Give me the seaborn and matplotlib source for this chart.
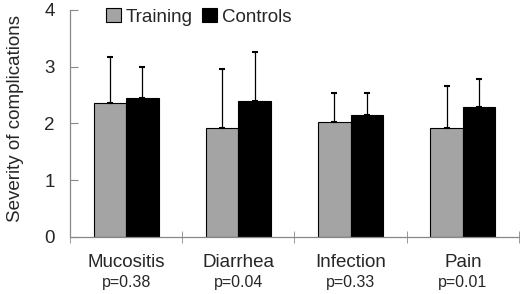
import matplotlib
matplotlib.use("Agg")
import matplotlib.pyplot as plt
import seaborn as sns
import pandas as pd
from matplotlib.patches import Patch

# values
categories = ["Mucositis", "Diarrhea", "Infection", "Pain"]
p_values = ["p=0.38", "p=0.04", "p=0.33", "p=0.01"]
groups = ["Training", "Controls"]
training_mean = [2.36, 1.92, 2.03, 1.92]
training_err = [0.81, 1.04, 0.50, 0.74]
controls_mean = [2.45, 2.40, 2.15, 2.29]
controls_err = [0.55, 0.86, 0.38, 0.50]

df = pd.DataFrame({
    "category": categories * 2,
    "group": [groups[0]] * 4 + [groups[1]] * 4,
    "severity": training_mean + controls_mean,
})
errs = training_err + controls_err

sns.set_style("white")
plt.rcParams["font.family"] = ["Liberation Sans", "DejaVu Sans"]

fig = plt.figure(figsize=(5.2, 2.94), dpi=100)
ax = fig.add_axes([0.1346, 0.194, 0.8634, 0.772])

palette = {"Training": "#a4a4a4", "Controls": "#000000"}
sns.barplot(data=df, x="category", y="severity", hue="group", order=categories,
            hue_order=groups, palette=palette, width=0.58, gap=0,
            errorbar=None, edgecolor="black", linewidth=0.8, saturation=1,
            legend=False, ax=ax)

# one-sided error bars on top of each bar
for patch, err in zip(ax.patches[:len(errs)], errs):
    xc = patch.get_x() + patch.get_width() / 2
    h = patch.get_height()
    ax.errorbar(xc, h, yerr=[[0], [err]], fmt="none", ecolor="black",
                elinewidth=0.9, capsize=2.3, capthick=1.5)

ax.set_xlim(-0.5, 3.5)
ax.set_ylim(0, 4)
ax.set_yticks([0, 1, 2, 3, 4])
ax.tick_params(axis="y", direction="in", length=6, color="#888888",
               labelsize=13.5, pad=11, left=True)
ax.set_xticks(range(4), labels=[])
ax.tick_params(axis="x", length=0)
ax.set_xticks([-0.5, 0.5, 1.5, 2.5, 3.5], minor=True)
ax.tick_params(axis="x", which="minor", direction="inout", length=8,
               color="#888888", bottom=True)
ax.set_xlabel("")
ax.set_ylabel("Severity of complications", fontsize=13.5)
ax.yaxis.set_label_coords(-0.103, 0.52)

# category names with the p-value below, as in the reference
for i, (cat, p) in enumerate(zip(categories, p_values)):
    ax.annotate(cat, xy=(i, 0), xycoords=("data", "axes fraction"),
                xytext=(0, -18.5), textcoords="offset points",
                ha="center", va="center", fontsize=13.5, annotation_clip=False)
    ax.annotate(p, xy=(i, 0), xycoords=("data", "axes fraction"),
                xytext=(0, -33), textcoords="offset points",
                ha="center", va="center", fontsize=11.5, annotation_clip=False)

sns.despine(ax=ax)
for side in ["left", "bottom"]:
    ax.spines[side].set_color("#888888")
    ax.spines[side].set_linewidth(0.9)

handles = [Patch(facecolor=palette[g], edgecolor="black", linewidth=0.8) for g in groups]
fig.legend(handles, groups, loc="center left", bbox_to_anchor=(0.204, 0.943),
           ncol=2, frameon=False, fontsize=13.5, handlelength=0.8,
           handleheight=0.8, handletextpad=0.25, columnspacing=0.5,
           borderpad=0, borderaxespad=0)

fig.savefig("out.png", dpi=100)
